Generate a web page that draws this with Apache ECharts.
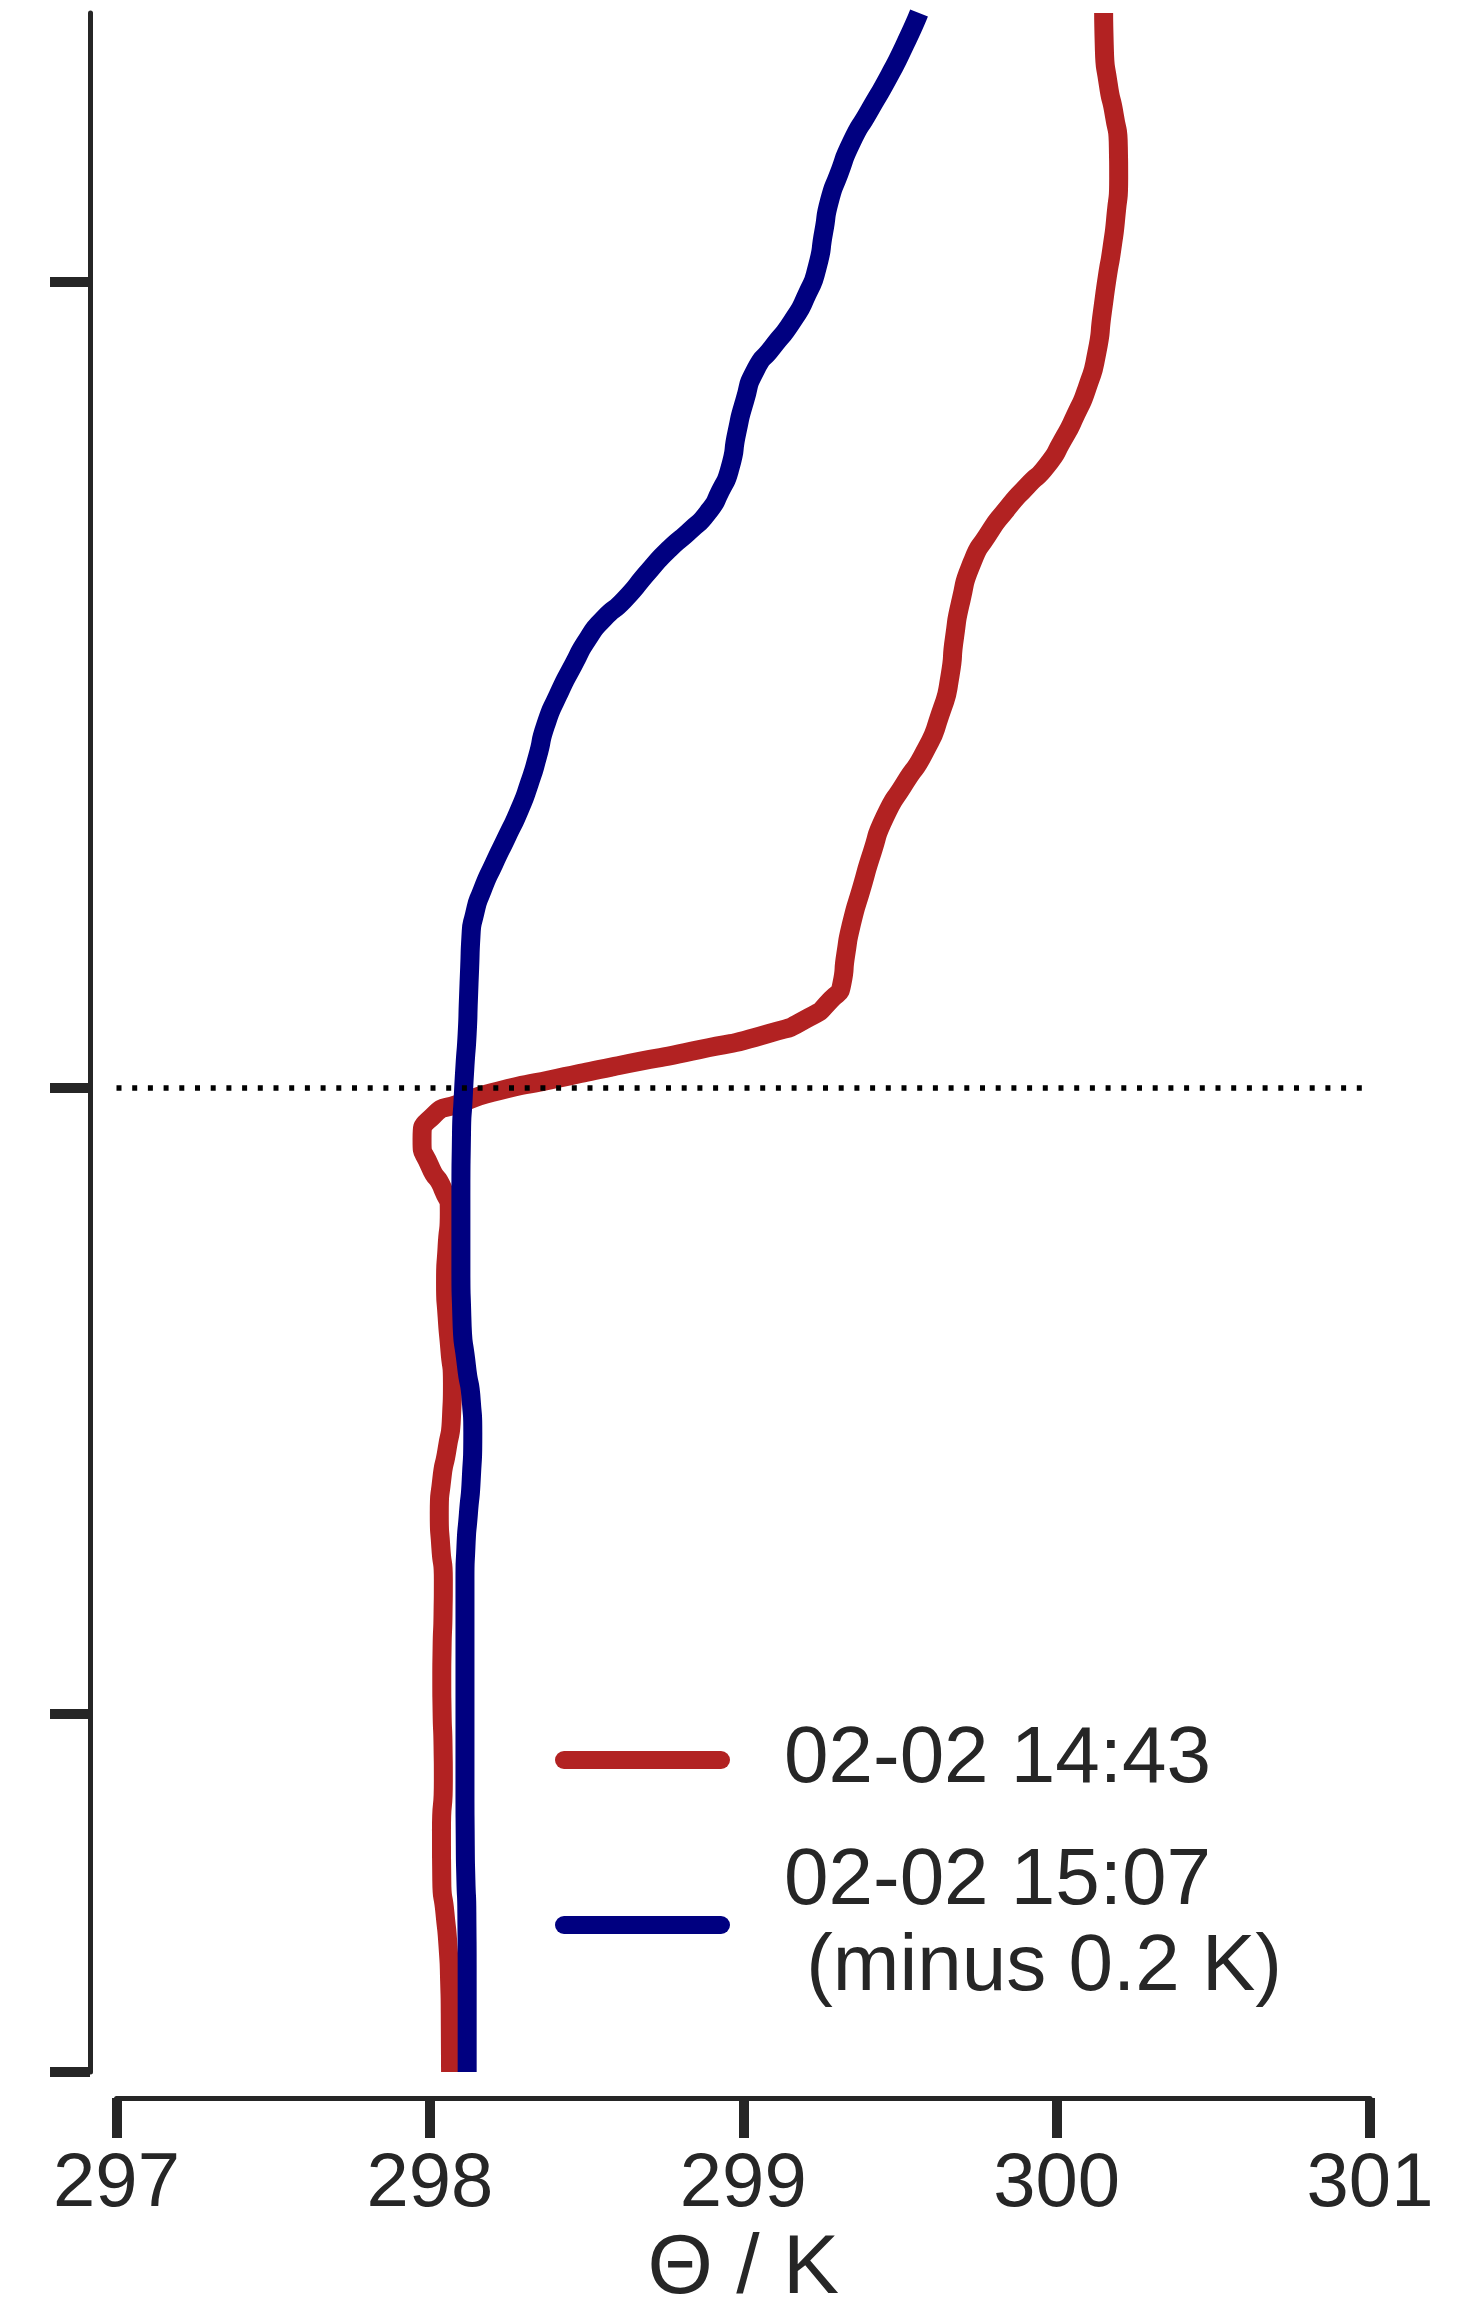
<!DOCTYPE html>
<html>
<head>
<meta charset="utf-8">
<script src="https://cdn.jsdelivr.net/npm/echarts@6/dist/echarts.min.js"></script>
<style>
  html, body { margin: 0; padding: 0; background: #ffffff; }
  #chart { width: 1475px; height: 2302px; }
</style>
</head>
<body>
<div id="chart"></div>
<script>
// Potential temperature profiles (height in m, theta in K)
const zRed = [0, 33, 51, 70, 89, 107, 135, 163, 182, 201, 219, 237, 256, 275, 293, 312, 331, 348, 366, 385,
  403, 422, 441, 461, 480, 493, 506, 521, 534, 541, 548, 554, 562, 571, 580, 589, 599, 608, 624, 641,
  662, 681, 701, 720, 737, 758, 780, 801, 822, 843, 858, 873, 886, 897, 911, 926, 941, 960, 983, 1003,
  1018, 1038, 1058, 1075, 1093, 1110, 1132, 1150];
const thetaRed = [298.066, 298.065, 298.063, 298.058, 298.048, 298.038, 298.037, 298.043, 298.042, 298.039,
  298.038, 298.039, 298.042, 298.043, 298.035, 298.030, 298.038, 298.055, 298.069, 298.072,
  298.064, 298.055, 298.050, 298.055, 298.062, 298.042, 298.000, 297.975, 298.010, 298.096,
  298.22, 298.38, 298.60, 298.86, 299.08, 299.21, 299.28, 299.315, 299.327, 299.345,
  299.379, 299.411, 299.452, 299.516, 299.578, 299.628, 299.660, 299.674, 299.695, 299.730,
  299.778, 299.841, 299.907, 299.968, 300.018, 300.062, 300.098, 300.128, 300.146, 300.162,
  300.176, 300.190, 300.198, 300.197, 300.184, 300.165, 300.152, 300.150];

// Second profile, already shifted by -0.2 K
const zBlue = [0, 51, 89, 107, 126, 163, 201, 237, 275, 293, 312, 331, 357, 375, 394, 422, 450, 487, 525, 543,
  562, 580, 599, 617, 634, 647, 660, 675, 690, 705, 720, 735, 752, 769, 786, 801, 812, 822, 839, 851,
  861, 871, 883, 896, 916, 933, 951, 963, 978, 993, 1008, 1028, 1045, 1060, 1078, 1095, 1115, 1132, 1150];
const thetaBlue = [298.119, 298.119, 298.118, 298.115, 298.113, 298.112, 298.112, 298.112, 298.112, 298.115,
  298.123, 298.132, 298.137, 298.132, 298.117, 298.102, 298.099, 298.099, 298.101, 298.106,
  298.112, 298.119, 298.123, 298.127, 298.131, 298.143, 298.167, 298.205, 298.246, 298.286,
  298.318, 298.344, 298.369, 298.409, 298.458, 298.506, 298.556, 298.619, 298.702, 298.766,
  298.831, 298.887, 298.927, 298.958, 298.980, 299.004, 299.040, 299.092, 299.157, 299.204,
  299.236, 299.257, 299.275, 299.305, 299.346, 299.401, 299.466, 299.515, 299.561];

const seriesNames = ['02-02 14:43', '02-02 15:07\n (minus 0.2 K)'];
const heightTicks = [0, 200, 550, 1000];
const inversionHeight = 550;
const thetaMin = 297, thetaMax = 301, thetaStep = 1;
const heightMax = 1150;

const pairs = (xs, zs) => xs.map((x, i) => [x, zs[i]]);

const FONT = "'Liberation Sans', Arial, sans-serif";
const INK = '#262626';
const capsule = 'path://M9,0H166A9,9,0,0,1,166,18H9A9,9,0,0,1,9,0Z';

const chart = echarts.init(document.getElementById('chart'), null, { renderer: 'canvas' });
chart.setOption({
  animation: false,
  backgroundColor: '#ffffff',
  grid: { left: 116.5, right: 105, top: 13, bottom: 230, containLabel: false, outerBoundsMode: 'none' },
  xAxis: {
    type: 'value',
    min: thetaMin, max: thetaMax, interval: thetaStep,
    offset: 26,
    name: 'Θ / K',
    nameLocation: 'middle',
    nameGap: 121,
    nameTextStyle: { fontFamily: FONT, fontSize: 84, color: INK },
    axisLine: { show: true, onZero: false, lineStyle: { color: INK, width: 5 } },
    axisTick: { show: true, length: 40, lineStyle: { color: INK, width: 10 } },
    axisLabel: { fontFamily: FONT, fontSize: 76, color: INK, margin: 49 },
    splitLine: { show: false }
  },
  yAxis: {
    type: 'value',
    min: 0, max: heightMax,
    offset: 26.5,
    axisLine: { show: true, onZero: false, lineStyle: { color: INK, width: 5 } },
    axisTick: { show: true, length: 40, customValues: heightTicks, lineStyle: { color: INK, width: 10 } },
    axisLabel: { show: false },
    splitLine: { show: false }
  },
  legend: {
    orient: 'vertical',
    left: 555, top: 1717,
    padding: 0,
    itemGap: 36,
    itemWidth: 175, itemHeight: 18,
    icon: capsule,
    selectedMode: false,
    textStyle: { fontFamily: FONT, fontSize: 80, lineHeight: 86, color: INK, padding: [0, 0, 0, 49] },
    data: seriesNames
  },
  series: [
    {
      name: seriesNames[0],
      type: 'line',
      data: pairs(thetaRed, zRed),
      showSymbol: false,
      smooth: 0.7,
      itemStyle: { color: '#b22222' },
      lineStyle: { color: '#b22222', width: 19, join: 'round' },
      markLine: {
        silent: true,
        symbol: 'none',
        label: { show: false },
        lineStyle: { color: '#000000', width: 5.5, type: [5, 10.7], cap: 'butt' },
        data: [{ yAxis: inversionHeight }]
      },
      z: 2
    },
    {
      name: seriesNames[1],
      type: 'line',
      data: pairs(thetaBlue, zBlue),
      showSymbol: false,
      smooth: 0.7,
      itemStyle: { color: '#000080' },
      lineStyle: { color: '#000080', width: 19, join: 'round' },
      z: 3
    }
  ]
});
</script>
</body>
</html>
